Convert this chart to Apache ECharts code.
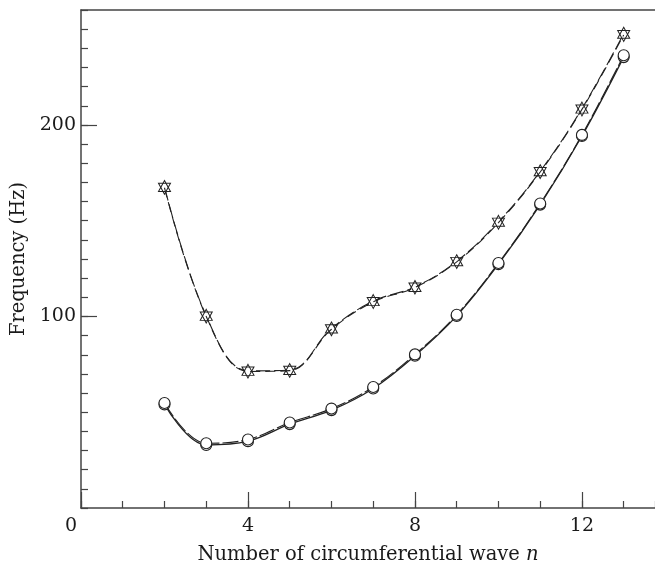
<!DOCTYPE html>
<html>
<head>
<meta charset="utf-8">
<script src="https://cdn.jsdelivr.net/npm/echarts@6/dist/echarts.min.js"></script>
<style>
html,body{margin:0;padding:0;background:#fff;}
#chart{width:655px;height:567px;}
</style>
</head>
<body>
<div id="chart"></div>
<script>
// Circumferential wave number n
var waveN = [2, 3, 4, 5, 6, 7, 8, 9, 10, 11, 12, 13];
// Upper branch (triangles), two nearly coincident curves
var upperA = [167.6, 100.3, 71.6, 72.0, 93.7, 108.0, 115.4, 128.8, 149.4, 175.8, 208.5, 247.6];
var upperB = [167.2, 100.0, 71.3, 71.7, 93.3, 107.6, 115.1, 128.5, 149.0, 175.4, 208.1, 247.0];
// Lower branch (circles), two nearly coincident curves
var lowerA = [54.1, 32.9, 34.9, 43.8, 51.1, 62.4, 79.5, 100.3, 127.3, 158.4, 194.2, 235.4];
var lowerB = [54.8, 33.8, 35.8, 44.6, 51.9, 63.2, 80.2, 100.9, 127.9, 159.0, 194.8, 236.4];
// Tick labels
var xTickLabels = [0, 4, 8, 12];
var yTickLabels = [100, 200];

function pairs(ys) { return waveN.map(function (n, i) { return [n, ys[i]]; }); }

var FONT = '"DejaVu Serif", "Liberation Serif", serif';
var AX = '#444';
var LN = '#222';
var TXT = '#1a1a1a';
var SM = 0.38;

var chart = echarts.init(document.getElementById('chart'), null, {renderer: 'canvas'});
chart.setOption({
  animation: false,
  backgroundColor: '#fff',
  grid: {left: 81, right: 0, top: 10, bottom: 59, containLabel: false, outerBoundsMode: 'none'},
  xAxis: [
    {
      type: 'value', min: 0, max: 13.75, interval: 1, position: 'bottom',
      axisLine: {show: true, lineStyle: {color: AX, width: 1.5}},
      axisTick: {show: true, inside: true, length: 7, lineStyle: {color: AX, width: 1.2}},
      axisLabel: {show: false},
      splitLine: {show: false}
    },
    {
      type: 'value', min: 0, max: 13.75, interval: 4, position: 'bottom',
      axisLine: {show: false},
      axisTick: {show: true, inside: true, length: 16, customValues: xTickLabels, lineStyle: {color: AX, width: 1.2}},
      axisLabel: {
        show: true, customValues: xTickLabels, margin: 9, color: TXT, fontFamily: FONT, fontSize: 19,
        formatter: function (v) { return v === 0 ? '{z|0}' : String(v); },
        rich: {z: {fontFamily: FONT, fontSize: 19, color: TXT, padding: [0, 20, 0, 0]}}
      },
      splitLine: {show: false},
      name: 'Number of circumferential wave {i|n}',
      nameLocation: 'middle', nameGap: 37,
      nameTextStyle: {color: TXT, fontFamily: FONT, fontSize: 19.5,
        rich: {i: {fontFamily: FONT, fontStyle: 'italic', fontSize: 19.5, color: TXT}}}
    },
    {
      type: 'value', min: 0, max: 13.75, position: 'top',
      axisLine: {show: true, onZero: false, lineStyle: {color: AX, width: 1.5}},
      axisTick: {show: false}, axisLabel: {show: false}, splitLine: {show: false}
    }
  ],
  yAxis: [
    {
      type: 'value', min: 0, max: 260, interval: 10, position: 'left',
      axisLine: {show: true, lineStyle: {color: AX, width: 1.5}},
      axisTick: {show: true, inside: true, length: 7, lineStyle: {color: AX, width: 1.2}},
      axisLabel: {show: false},
      splitLine: {show: false}
    },
    {
      type: 'value', min: 0, max: 260, interval: 100, position: 'left',
      axisLine: {show: false},
      axisTick: {show: true, inside: true, length: 16, customValues: yTickLabels, lineStyle: {color: AX, width: 1.2}},
      axisLabel: {show: true, customValues: yTickLabels, margin: 5, color: TXT, fontFamily: FONT, fontSize: 19},
      splitLine: {show: false},
      name: 'Frequency (Hz)', nameLocation: 'middle', nameGap: 50, nameRotate: 90,
      nameTextStyle: {color: TXT, fontFamily: FONT, fontSize: 19.5}
    }
  ],
  series: [
    {
      type: 'line', name: 'upperA', data: pairs(upperA), smooth: SM,
      symbol: 'triangle', symbolSize: [12, 11], symbolOffset: [0, -1],
      itemStyle: {color: '#fff', borderColor: LN, borderWidth: 1},
      lineStyle: {color: LN, width: 1.1, type: [14, 4]}, z: 3
    },
    {
      type: 'line', name: 'upperB', data: pairs(upperB), smooth: SM,
      symbol: 'triangle', symbolRotate: 180, symbolSize: [12, 11], symbolOffset: [0, 1],
      itemStyle: {color: 'rgba(255,255,255,0)', borderColor: LN, borderWidth: 1},
      lineStyle: {color: LN, width: 1.1, type: [10, 5]}, z: 4
    },
    {
      type: 'line', name: 'lowerA', data: pairs(lowerA), smooth: SM,
      symbol: 'circle', symbolSize: 11,
      itemStyle: {color: '#fff', borderColor: LN, borderWidth: 1.1},
      lineStyle: {color: LN, width: 1.3}, z: 3
    },
    {
      type: 'line', name: 'lowerB', data: pairs(lowerB), smooth: SM,
      symbol: 'circle', symbolSize: 11,
      itemStyle: {color: '#fff', borderColor: LN, borderWidth: 1.1},
      lineStyle: {color: LN, width: 1.1, type: [16, 3]}, z: 4
    }
  ]
});
</script>
</body>
</html>
